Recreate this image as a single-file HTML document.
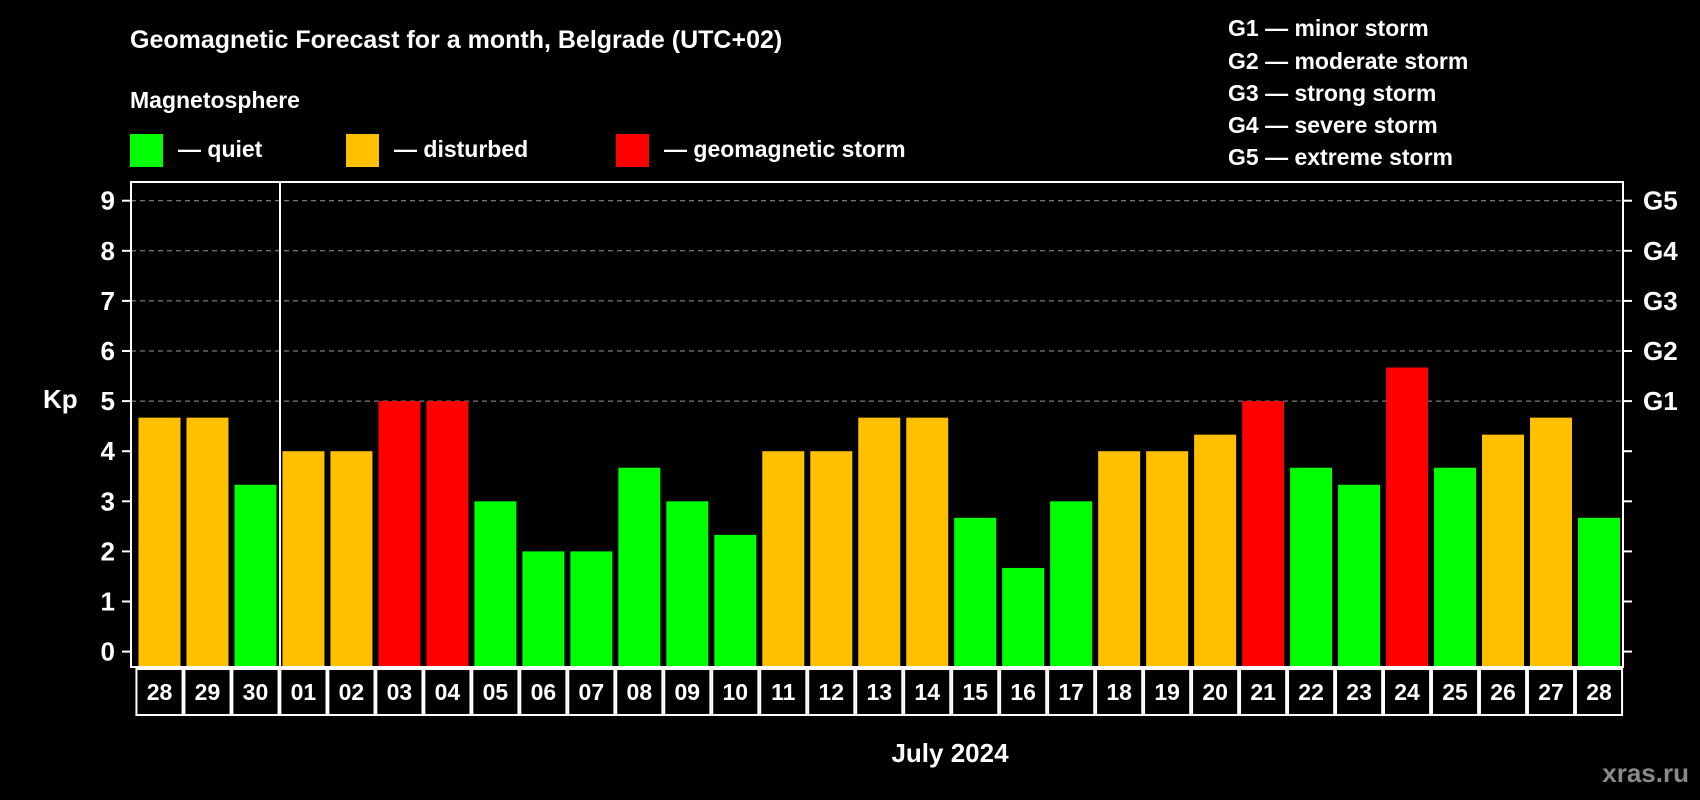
<!DOCTYPE html>
<html><head><meta charset="utf-8"><style>
html,body{margin:0;padding:0;background:#000;}
svg{display:block;font-family:"Liberation Sans",Arial,sans-serif;font-weight:bold;}
</style></head><body>
<svg id="chart" width="1700" height="800" viewBox="0 0 1700 800" xmlns="http://www.w3.org/2000/svg">
<rect width="1700" height="800" fill="#000"/>
<text x="130" y="48" fill="#fff" font-size="25">Geomagnetic Forecast for a month, Belgrade (UTC+02)</text>
<text x="130" y="108" fill="#fff" font-size="23">Magnetosphere</text>
<g>
<rect x="130" y="134" width="33" height="33" fill="#00ff00"/>
<text x="178" y="157" fill="#fff" font-size="23">— quiet</text></g>
<g>
<rect x="346" y="134" width="33" height="33" fill="#ffc000"/>
<text x="394" y="157" fill="#fff" font-size="23">— disturbed</text></g>
<g>
<rect x="616" y="134" width="33" height="33" fill="#ff0000"/>
<text x="664" y="157" fill="#fff" font-size="23">— geomagnetic storm</text></g>
<g font-size="23" fill="#fff">
<text x="1228" y="36">G1 — minor storm</text>
<text x="1228" y="69">G2 — moderate storm</text>
<text x="1228" y="101">G3 — strong storm</text>
<text x="1228" y="133">G4 — severe storm</text>
<text x="1228" y="165">G5 — extreme storm</text>
</g>
<text x="43" y="408" fill="#fff" font-size="26">Kp</text>
<text x="950" y="762" fill="#fff" font-size="26" text-anchor="middle">July 2024</text>
<text x="1689" y="782" fill="#8a8a8a" font-size="26" text-anchor="end">xras.ru</text>
<g id="plot"></g>
</svg>
<script>
const dates = ["28","29","30","01","02","03","04","05","06","07","08","09","10","11","12","13","14","15","16","17","18","19","20","21","22","23","24","25","26","27","28"];
const kpValues = [4.67,4.67,3.33,4,4,5,5,3,2,2,3.67,3,2.33,4,4,4.67,4.67,2.67,1.67,3,4,4,4.33,5,3.67,3.33,5.67,3.67,4.33,4.67,2.67];
const yTicks = [0,1,2,3,4,5,6,7,8,9];
const gLabels = ["G1","G2","G3","G4","G5"];
const gLevels = [5,6,7,8,9];

const NS = "http://www.w3.org/2000/svg";
const plot = document.getElementById("plot");
const L = 131, R = 1623, T = 182, B = 667;
const y0 = 651.6, unit = 50.1;
function yScale(v){ return y0 - v*unit; }
const band = (R - L) / dates.length;
function xCenter(i){ return 159.5 + i*(1599 - 159.5)/(dates.length-1); }
function mk(tag, attrs){ const e = document.createElementNS(NS, tag); for (const k in attrs) e.setAttribute(k, attrs[k]); plot.appendChild(e); return e; }
function color(v){ return v >= 5 ? "#ff0000" : (v >= 4 ? "#ffc000" : "#00ff00"); }

// gridlines
yTicks.forEach(t => {
  if (t >= 5) {
    const g = mk("line", {x1:L, x2:R, y1:yScale(t), y2:yScale(t), stroke:"#9a9a9a", "stroke-width":1, "stroke-dasharray":"5,4"});
    
    
  }
});
// bars
kpValues.forEach((v, i) => {
  const c = xCenter(i);
  const r = mk("rect", {x:c-21, y:yScale(v), width:42, height:B - yScale(v) - 1, fill:color(v)});
  
  
});
// frame
const fr = mk("rect", {x:L, y:T, width:R-L, height:B-T, fill:"none", stroke:"#fff", "stroke-width":2});


const sep = mk("line", {x1:280, x2:280, y1:T, y2:B, stroke:"#fff", "stroke-width":2});


// left ticks
yTicks.forEach(t => {
  const y = yScale(t);
  const tk = mk("line", {x1:L-9, x2:L, y1:y, y2:y, stroke:"#fff", "stroke-width":2});
  
  
  const tx = mk("text", {x:L-16, y:y+9, fill:"#fff", "font-size":26, "text-anchor":"end"});
  tx.textContent = t;
  
  
  const rt = mk("line", {x1:R, x2:R+9, y1:y, y2:y, stroke:"#fff", "stroke-width":2});
  
  
});
gLabels.forEach((g, i) => {
  const tx = mk("text", {x:R+20, y:yScale(gLevels[i])+9, fill:"#fff", "font-size":26});
  tx.textContent = g;
  
  
});
// date boxes
dates.forEach((d, i) => {
  const c = xCenter(i);
  const bx = mk("rect", {x:c-band/2+1, y:B+2, width:band-2, height:46, fill:"#000", stroke:"#fff", "stroke-width":2});
  
  
  const tx = mk("text", {x:c, y:B+33, fill:"#fff", "font-size":23, "text-anchor":"middle"});
  tx.textContent = d;
  
  
});
</script>
</body></html>
